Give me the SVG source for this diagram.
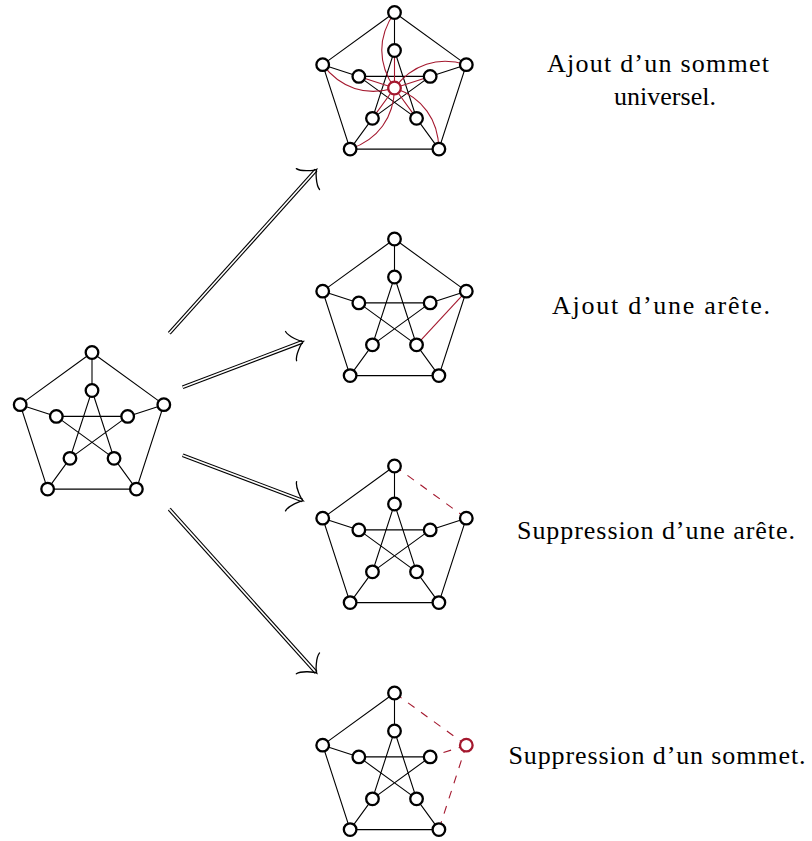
<svg xmlns="http://www.w3.org/2000/svg" xmlns:xlink="http://www.w3.org/1999/xlink" width="812" height="841" viewBox="0 0 812 841">
<defs>
<style>
.e{stroke:#000;stroke-width:1.1;fill:none}
.er{stroke:#a4182e;stroke-width:1.1;fill:none}
.ed{stroke:#a4182e;stroke-width:1.1;fill:none;stroke-dasharray:8 8}
.n{fill:#fff;stroke:#000;stroke-width:2.3}
.nr{fill:#fff;stroke:#a4182e;stroke-width:2.3}
.sh1{stroke:#000;stroke-width:3.8;fill:none}
.sh2{stroke:#fff;stroke-width:1.6;fill:none}
.hd{stroke:#000;stroke-width:1.3;fill:none;stroke-linecap:round}
.t{font-family:"Liberation Serif","Times New Roman",serif;font-size:26px;fill:#000}
</style>
<g id="pet-edges">
<path class="e" d="M0,-75.5L71.8,-23.33L44.38,61.08L-44.38,61.08L-71.8,-23.33Z"/>
<path class="e" d="M0,-75.5L0,-37.5M71.8,-23.33L35.66,-11.59M44.38,61.08L22.04,30.34M-44.38,61.08L-22.04,30.34M-71.8,-23.33L-35.66,-11.59"/>
<path class="e" d="M0,-37.5L22.04,30.34L-35.66,-11.59L35.66,-11.59L-22.04,30.34Z"/>
</g>
<g id="pet-nodes">
<circle class="n" cx="0" cy="-75.5" r="6.3"/>
<circle class="n" cx="71.8" cy="-23.33" r="6.3"/>
<circle class="n" cx="44.38" cy="61.08" r="6.3"/>
<circle class="n" cx="-44.38" cy="61.08" r="6.3"/>
<circle class="n" cx="-71.8" cy="-23.33" r="6.3"/>
<circle class="n" cx="0" cy="-37.5" r="6.3"/>
<circle class="n" cx="35.66" cy="-11.59" r="6.3"/>
<circle class="n" cx="22.04" cy="30.34" r="6.3"/>
<circle class="n" cx="-22.04" cy="30.34" r="6.3"/>
<circle class="n" cx="-35.66" cy="-11.59" r="6.3"/>
</g>
<path id="arrowhead" class="hd" d="M-13.1,-15.6C-12.25,-9.75 -2.6,-1 0,0C-2.6,1 -12.25,9.75 -13.1,15.6"/>
</defs>

<g id="connectors">
<g transform="translate(316.7,169.3) rotate(-48.05)">
<path class="sh1" d="M-220.5,0H-1"/><path class="sh2" d="M-220.5,0H-1"/><use xlink:href="#arrowhead"/>
</g>
<g transform="translate(303.3,341.5) rotate(-20.75)">
<path class="sh1" d="M-129,0H-1"/><path class="sh2" d="M-129,0H-1"/><use xlink:href="#arrowhead"/>
</g>
<g transform="translate(303.3,500.9) rotate(20.75)">
<path class="sh1" d="M-129,0H-1"/><path class="sh2" d="M-129,0H-1"/><use xlink:href="#arrowhead"/>
</g>
<g transform="translate(316.7,673.1) rotate(48.05)">
<path class="sh1" d="M-220.5,0H-1"/><path class="sh2" d="M-220.5,0H-1"/><use xlink:href="#arrowhead"/>
</g>
</g>

<g id="graph-original" transform="translate(92,428)">
<use xlink:href="#pet-edges"/>
<use xlink:href="#pet-nodes"/>
</g>

<g id="graph-universal" transform="translate(394.5,88)">
<use xlink:href="#pet-edges"/>
<g id="universal-edges">
<path class="er" d="M0,0L0,-37.5M0,0L35.66,-11.59M0,0L22.04,30.34M0,0L-22.04,30.34M0,0L-35.66,-11.59"/>
<path class="er" d="M0,-75.5C-16.97,-51.29 -16.97,-24.21 0,0"/>
<path class="er" d="M0,-75.5C-16.97,-51.29 -16.97,-24.21 0,0" transform="rotate(72)"/>
<path class="er" d="M0,-75.5C-16.97,-51.29 -16.97,-24.21 0,0" transform="rotate(144)"/>
<path class="er" d="M0,-75.5C-16.97,-51.29 -16.97,-24.21 0,0" transform="rotate(216)"/>
<path class="er" d="M0,-75.5C-16.97,-51.29 -16.97,-24.21 0,0" transform="rotate(288)"/>
</g>
<use xlink:href="#pet-nodes"/>
<circle id="universal-vertex" class="nr" cx="0" cy="0" r="6.3"/>
</g>

<g id="graph-add-edge" transform="translate(394.5,314.5)">
<use xlink:href="#pet-edges"/>
<path class="er" d="M71.8,-23.33L22.04,30.34"/>
<use xlink:href="#pet-nodes"/>
</g>

<g id="graph-del-edge" transform="translate(394.5,541.5)">
<path class="e" d="M71.8,-23.33L44.38,61.08L-44.38,61.08L-71.8,-23.33L0,-75.5"/>
<path class="e" d="M0,-75.5L0,-37.5M71.8,-23.33L35.66,-11.59M44.38,61.08L22.04,30.34M-44.38,61.08L-22.04,30.34M-71.8,-23.33L-35.66,-11.59"/>
<path class="e" d="M0,-37.5L22.04,30.34L-35.66,-11.59L35.66,-11.59L-22.04,30.34Z"/>
<path class="ed" d="M0,-75.5L71.8,-23.33"/>
<use xlink:href="#pet-nodes"/>
</g>

<g id="graph-del-vertex" transform="translate(394.5,768.5)">
<path class="e" d="M44.38,61.08L-44.38,61.08L-71.8,-23.33L0,-75.5"/>
<path class="e" d="M0,-75.5L0,-37.5M44.38,61.08L22.04,30.34M-44.38,61.08L-22.04,30.34M-71.8,-23.33L-35.66,-11.59"/>
<path class="e" d="M0,-37.5L22.04,30.34L-35.66,-11.59L35.66,-11.59L-22.04,30.34Z"/>
<path class="ed" d="M71.8,-23.33L0,-75.5M71.8,-23.33L35.66,-11.59M71.8,-23.33L44.38,61.08"/>
<circle class="n" cx="0" cy="-75.5" r="6.3"/>
<circle class="nr" cx="71.8" cy="-23.33" r="6.3"/>
<circle class="n" cx="44.38" cy="61.08" r="6.3"/>
<circle class="n" cx="-44.38" cy="61.08" r="6.3"/>
<circle class="n" cx="-71.8" cy="-23.33" r="6.3"/>
<circle class="n" cx="0" cy="-37.5" r="6.3"/>
<circle class="n" cx="35.66" cy="-11.59" r="6.3"/>
<circle class="n" cx="22.04" cy="30.34" r="6.3"/>
<circle class="n" cx="-22.04" cy="30.34" r="6.3"/>
<circle class="n" cx="-35.66" cy="-11.59" r="6.3"/>
</g>

<g id="labels">
<text class="t" x="547" y="72" textLength="222">Ajout d’un sommet</text>
<text class="t" x="665" y="104.5" text-anchor="middle">universel.</text>
<text class="t" x="552" y="313.5" textLength="218">Ajout d’une arête.</text>
<text class="t" x="517" y="538.5" textLength="278">Suppression d’une arête.</text>
<text class="t" x="508.5" y="763.5" textLength="297">Suppression d’un sommet.</text>
</g>
</svg>
